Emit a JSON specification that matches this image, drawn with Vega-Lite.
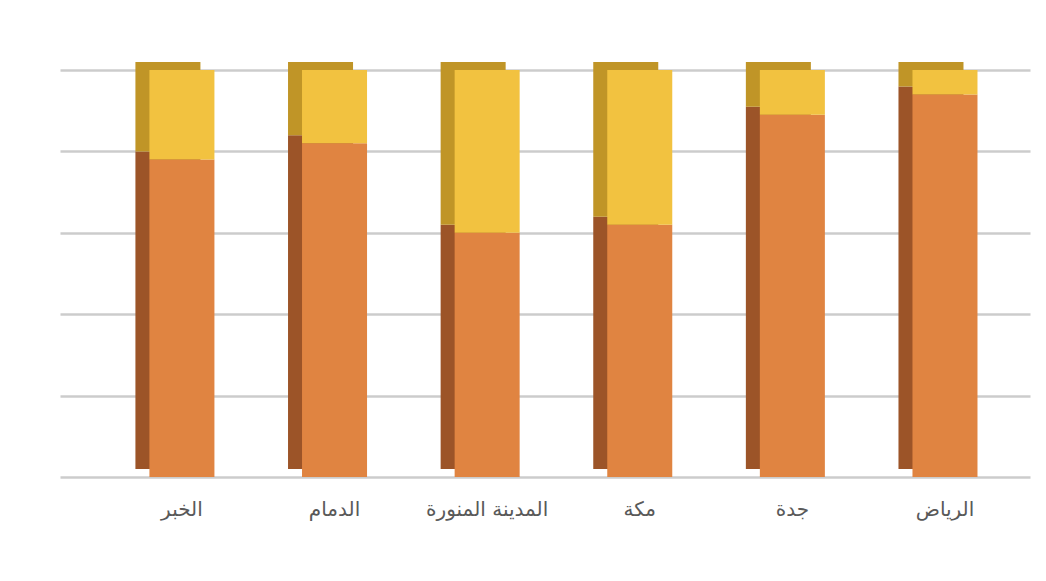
{
  "$schema": "https://vega.github.io/schema/vega-lite/v6.json",
  "width": 1046,
  "height": 581,
  "autosize": {"type": "fit", "contains": "padding"},
  "padding": {"left": 60, "top": 62, "right": 16, "bottom": 62},
  "background": "white",
  "config": {"view": {"stroke": null}, "font": "DejaVu Sans"},
  "data": {
    "values": [
      {"city": "الخبر", "series": "a", "ord": 1, "value": 78},
      {"city": "الخبر", "series": "b", "ord": 2, "value": 22},
      {"city": "الدمام", "series": "a", "ord": 1, "value": 82},
      {"city": "الدمام", "series": "b", "ord": 2, "value": 18},
      {"city": "المدينة المنورة", "series": "a", "ord": 1, "value": 60},
      {"city": "المدينة المنورة", "series": "b", "ord": 2, "value": 40},
      {"city": "مكة", "series": "a", "ord": 1, "value": 62},
      {"city": "مكة", "series": "b", "ord": 2, "value": 38},
      {"city": "جدة", "series": "a", "ord": 1, "value": 89},
      {"city": "جدة", "series": "b", "ord": 2, "value": 11},
      {"city": "الرياض", "series": "a", "ord": 1, "value": 94},
      {"city": "الرياض", "series": "b", "ord": 2, "value": 6}
    ]
  },
  "encoding": {
    "x": {
      "field": "city",
      "type": "nominal",
      "sort": ["الخبر", "الدمام", "المدينة المنورة", "مكة", "جدة", "الرياض"],
      "scale": {"paddingInner": 0.574, "paddingOuter": 0.465, "align": 0.63},
      "axis": {
        "title": null,
        "labelAngle": 0,
        "labelFontSize": 20,
        "labelColor": "#595959",
        "labelPadding": 22,
        "domain": false,
        "ticks": false
      }
    },
    "y": {
      "field": "value",
      "type": "quantitative",
      "stack": "zero",
      "scale": {"domain": [0, 100], "nice": false},
      "axis": {
        "title": null,
        "labels": false,
        "ticks": false,
        "domain": false,
        "values": [0, 20, 40, 60, 80, 100],
        "gridColor": "#cccccc",
        "gridWidth": 2.5
      }
    },
    "order": {"field": "ord", "type": "quantitative"}
  },
  "layer": [
    {
      "mark": {"type": "bar", "xOffset": -14, "yOffset": -8},
      "encoding": {
        "color": {
          "field": "series",
          "type": "nominal",
          "scale": {"domain": ["a", "b"], "range": ["#9c5428", "#c09527"]},
          "legend": null
        }
      }
    },
    {
      "mark": {"type": "bar"},
      "encoding": {
        "color": {
          "field": "series",
          "type": "nominal",
          "scale": {"domain": ["a", "b"], "range": ["#e08441", "#f2c240"]},
          "legend": null
        }
      }
    }
  ],
  "resolve": {"scale": {"color": "independent"}}
}
